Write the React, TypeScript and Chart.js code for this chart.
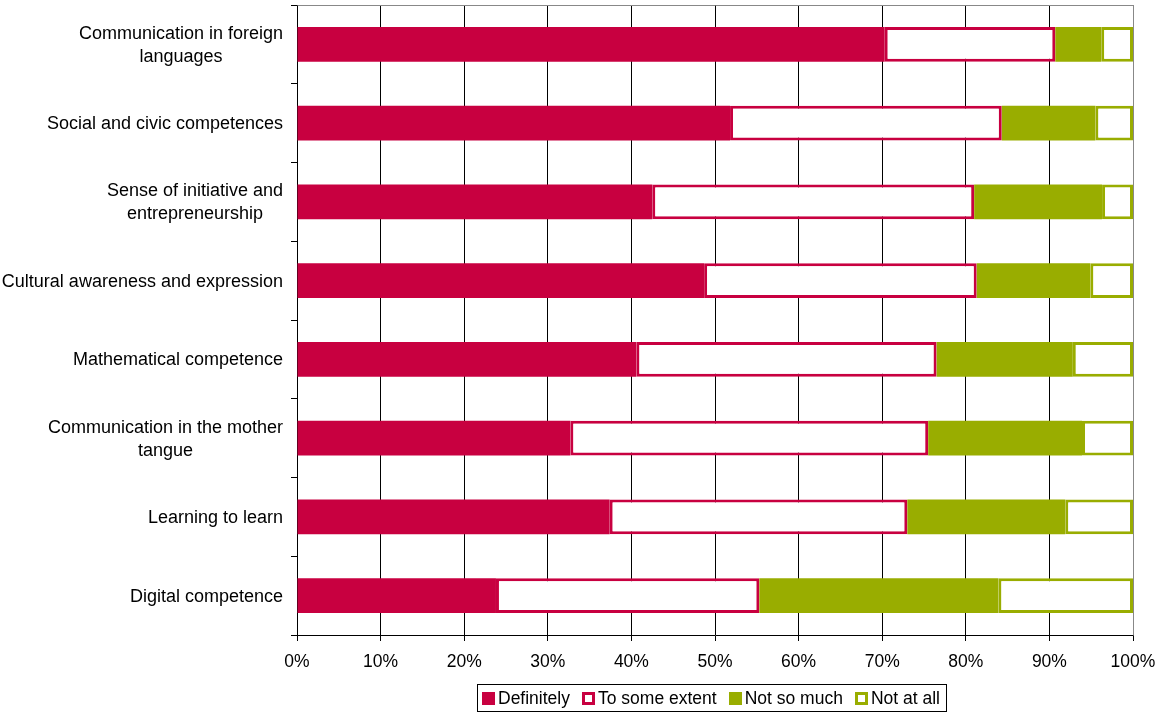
import React, { useEffect, useRef } from "react";
import { Chart, registerables } from "chart.js";

Chart.register(...registerables);

const categories: (string | string[])[] = [
  ["Communication in foreign", "languages"],
  "Social and civic competences",
  ["Sense of initiative and", "entrepreneurship"],
  "Cultural awareness and expression",
  "Mathematical competence",
  ["Communication in the mother", "tangue"],
  "Learning to learn",
  "Digital competence",
];

const definitely = [70.3, 51.8, 42.5, 48.7, 40.6, 32.7, 37.4, 23.8];
const toSomeExtent = [20.4, 32.5, 38.5, 32.6, 35.9, 42.8, 35.6, 31.5];
const notSoMuch = [5.5, 11.2, 15.3, 13.6, 16.3, 18.4, 18.9, 28.6];
const notAtAll = [3.8, 4.5, 3.7, 5.1, 7.2, 6.1, 8.1, 16.1];

const xTickValues = [0, 10, 20, 30, 40, 50, 60, 70, 80, 90, 100];

const CRIMSON = "#C80040";
const OLIVE = "#99AD00";
const FONT = '"Liberation Sans", Arial, sans-serif';
const LABEL_SIZE = 18;
const TICK_SIZE = 17.5;
const LEGEND_SIZE = 17.5;

export default function App() {
  const ref = useRef<HTMLCanvasElement | null>(null);

  useEffect(() => {
    if (!ref.current) return;

    const yLabelPlugin = {
      id: "yLabels",
      afterDraw(chart: any) {
        const ctx = chart.ctx;
        const ys = chart.scales.y;
        const labels = chart.data.labels as (string | string[])[];
        ctx.save();
        ctx.font = `${LABEL_SIZE}px ${FONT}`;
        ctx.fillStyle = "#000";
        ctx.textAlign = "center";
        ctx.textBaseline = "middle";
        const lineH = 23;
        const rightEdge = ys.right - 14;
        labels.forEach((lab, i) => {
          const lines = Array.isArray(lab) ? lab : [lab];
          const maxW = Math.max(...lines.map((l) => ctx.measureText(l).width));
          const cx = rightEdge - maxW / 2;
          const cy = ys.getPixelForValue(i);
          lines.forEach((l, j) => {
            ctx.fillText(l, cx, cy + (j - (lines.length - 1) / 2) * lineH + 1);
          });
        });
        ctx.restore();
      },
    };

    const framePlugin = {
      id: "frame",
      afterDatasetsDraw(chart: any) {
        const { ctx, chartArea } = chart;
        ctx.save();
        ctx.strokeStyle = "#888";
        ctx.lineWidth = 1;
        ctx.beginPath();
        ctx.moveTo(Math.round(chartArea.left) + 0.5, Math.round(chartArea.top) + 0.5);
        ctx.lineTo(Math.round(chartArea.right) + 0.5, Math.round(chartArea.top) + 0.5);
        ctx.lineTo(Math.round(chartArea.right) + 0.5, Math.round(chartArea.bottom) + 0.5);
        ctx.stroke();
        ctx.restore();
      },
    };

    const legendPlugin = {
      id: "boxLegend",
      afterDraw(chart: any) {
        const ctx = chart.ctx;
        const ds = chart.data.datasets;
        ctx.save();
        ctx.font = `${LEGEND_SIZE}px ${FONT}`;
        const marker = 13;
        const gapText = 3;
        const gapItem = 12;
        const widths = ds.map((d: any) => ctx.measureText(d.label).width);
        let total = 0;
        widths.forEach((w: number, i: number) => {
          total += marker + gapText + w + (i < widths.length - 1 ? gapItem : 0);
        });
        const boxW = total + 11;
        const boxH = 27;
        const cxMid = (chart.chartArea.left + chart.chartArea.right) / 2 - 3.5;
        const boxL = Math.round(cxMid - boxW / 2) + 0.5;
        const boxT = 684.5;
        ctx.strokeStyle = "#000";
        ctx.lineWidth = 1;
        ctx.strokeRect(boxL, boxT, Math.round(boxW), boxH);
        let x = boxL + 4.5;
        const cy = boxT + boxH / 2;
        ds.forEach((d: any, i: number) => {
          const top = Math.round(cy - marker / 2);
          if (d.borderWidth && d.borderWidth > 0) {
            ctx.fillStyle = d.borderColor;
            ctx.fillRect(Math.round(x), top, marker, marker);
            ctx.fillStyle = d.backgroundColor;
            ctx.fillRect(Math.round(x) + 3, top + 3, marker - 6, marker - 6);
          } else {
            ctx.fillStyle = d.backgroundColor;
            ctx.fillRect(Math.round(x), top, marker, marker);
          }
          x += marker + gapText;
          ctx.fillStyle = "#000";
          ctx.textAlign = "left";
          ctx.textBaseline = "middle";
          ctx.fillText(d.label, x, cy + 1);
          x += widths[i] + gapItem;
        });
        ctx.restore();
      },
    };

    const chart = new Chart(ref.current, {
      type: "bar",
      data: {
        labels: categories as any,
        datasets: [
          {
            label: "Definitely",
            data: definitely,
            backgroundColor: CRIMSON,
            borderWidth: 0,
          },
          {
            label: "To some extent",
            data: toSomeExtent,
            backgroundColor: "#FFFFFF",
            borderColor: CRIMSON,
            borderWidth: 3,
            borderSkipped: false,
          },
          {
            label: "Not so much",
            data: notSoMuch,
            backgroundColor: OLIVE,
            borderWidth: 0,
          },
          {
            label: "Not at all",
            data: notAtAll,
            backgroundColor: "#FFFFFF",
            borderColor: OLIVE,
            borderWidth: 3,
            borderSkipped: false,
          },
        ],
      },
      options: {
        indexAxis: "y",
        responsive: false,
        animation: false,
        devicePixelRatio: 1,
        layout: { padding: { top: 5, right: 24, left: 0, bottom: 0 } },
        datasets: {
          bar: { barPercentage: 0.44, categoryPercentage: 1 },
        },
        plugins: {
          legend: { display: false },
          tooltip: { enabled: false },
          title: { display: false },
        },
        scales: {
          x: {
            stacked: true,
            min: 0,
            max: 100,
            afterFit: (s: any) => {
              s.height = 77;
              s.paddingLeft = 0;
              s.paddingRight = 0;
            },
            afterBuildTicks: (s: any) => {
              s.ticks = xTickValues.map((v) => ({ value: v }));
            },
            ticks: {
              callback: (v: any) => `${v}%`,
              color: "#000",
              font: { family: FONT, size: TICK_SIZE },
              padding: 11,
              maxRotation: 0,
            },
            grid: {
              color: (c: any) => (c.index === 10 ? "#888" : "#000"),
              lineWidth: 1,
              tickLength: 6,
              tickColor: "#000",
            },
            border: { color: "#000", width: 1 },
          },
          y: {
            stacked: true,
            afterFit: (s: any) => {
              s.width = 297;
              s.paddingTop = 0;
              s.paddingBottom = 0;
            },
            ticks: { display: false },
            grid: {
              drawOnChartArea: false,
              tickLength: 6,
              tickColor: "#000",
            },
            border: { color: "#000", width: 1 },
          },
        },
      },
      plugins: [framePlugin, yLabelPlugin, legendPlugin],
    });

    return () => chart.destroy();
  }, []);

  return (
    <div style={{ position: "fixed", left: 0, top: 0, width: 1157, height: 712, background: "#fff" }}>
      <canvas ref={ref} width={1157} height={712} style={{ display: "block" }} />
    </div>
  );
}
